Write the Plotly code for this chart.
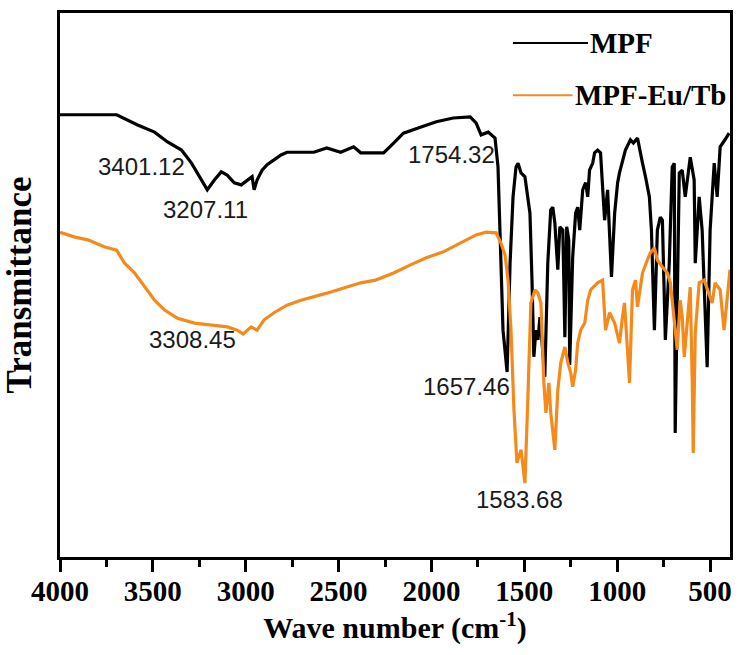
import plotly.graph_objects as go

# ---- data (wavenumber in cm^-1, transmittance in arbitrary %) ----
mpf_wn = [4000, 3695, 3582, 3491, 3421, 3346, 3292, 3239, 3207, 3169, 3132, 3100, 3062, 3024,
          2992, 2966, 2955, 2939, 2912, 2885, 2848, 2810, 2778, 2703, 2633, 2564, 2489, 2419,
          2381, 2312, 2258, 2204, 2151, 2060, 1974, 1883, 1792, 1760, 1733, 1695, 1658, 1642,
          1626, 1615, 1593, 1577, 1561, 1545, 1534, 1518, 1497, 1481, 1470, 1459, 1449, 1438,
          1427, 1416, 1400, 1390, 1374, 1358, 1347, 1336, 1320, 1309, 1293, 1282, 1272, 1261,
          1256, 1240, 1224, 1213, 1202, 1186, 1170, 1159, 1149, 1132, 1122, 1106, 1090, 1079,
          1068, 1052, 1041, 1031, 1014, 998, 988, 956, 929, 913, 891, 880, 864, 848, 827, 816,
          800, 784, 768, 757, 741, 720, 704, 693, 688, 677, 666, 650, 634, 607, 586, 580, 559,
          543, 516, 500, 478, 462, 446, 420, 398]
mpf_t = [81.3, 81.3, 79.4, 78.1, 76.3, 74.8, 72.4, 69.3, 67.5, 69.3, 70.8, 70.2, 68.8, 68.4,
         69.3, 69.9, 67.5, 69.3, 71.1, 72.1, 73.0, 73.9, 74.4, 74.4, 74.4, 75.2, 74.4, 75.4,
         74.3, 74.3, 74.3, 76.1, 77.9, 79.0, 80.0, 80.7, 80.9, 79.8, 77.6, 78.1, 77.0, 71.7,
         50.9, 41.7, 34.0, 54.0, 66.2, 71.7, 72.4, 70.6, 69.9, 65.6, 63.2, 50.9, 36.8, 41.7,
         39.9, 44.1, 36.2, 33.1, 54.0, 63.8, 64.3, 61.4, 52.8, 60.7, 60.1, 40.4, 60.7, 58.3,
         35.3, 55.1, 63.2, 64.3, 60.1, 67.5, 68.8, 66.2, 71.1, 72.4, 74.3, 74.8, 74.3, 68.0,
         61.9, 67.5, 58.8, 51.5, 63.2, 68.8, 70.6, 74.8, 76.7, 76.1, 77.0, 74.8, 72.4, 69.9, 66.2, 60.1,
         41.7, 60.1, 62.5, 61.9, 39.9, 54.0, 71.7, 72.4, 22.8, 47.2, 70.6, 71.1, 66.2, 73.5, 69.3, 54.0, 66.2,
         60.1, 34.9, 60.1, 72.4, 66.2, 75.4, 76.7, 77.9]

eu_wn = [4000, 3920, 3850, 3759, 3695, 3652, 3598, 3544, 3491, 3437, 3368, 3276, 3169, 3100,
         3046, 3014, 2971, 2939, 2901, 2848, 2778, 2703, 2564, 2381, 2301, 2204, 2113, 2028,
         1936, 1845, 1760, 1706, 1652, 1626, 1604, 1588, 1572, 1556, 1540, 1518, 1497, 1481,
         1465, 1443, 1427, 1411, 1395, 1384, 1368, 1358, 1336, 1320, 1304, 1282, 1266, 1250,
         1240, 1224, 1213, 1197, 1175, 1159, 1143, 1106, 1079, 1063, 1041, 1014, 988, 972, 961,
         945, 934, 918, 902, 891, 864, 838, 822, 800, 784, 757, 730, 714, 693, 677, 661, 650,
         639, 623, 607, 596, 591, 580, 559, 532, 505, 489, 473, 446, 425, 409, 393]
eu_t = [59.7, 58.8, 58.3, 57.0, 56.4, 54.0, 52.2, 49.6, 47.2, 45.4, 43.9, 43.0, 42.6, 42.3,
        41.7, 41.0, 42.3, 41.7, 43.6, 44.9, 46.3, 47.2, 48.5, 50.4, 50.9, 52.2, 53.7, 55.0,
        56.1, 57.7, 59.2, 59.7, 59.6, 57.7, 55.5, 50.9, 41.7, 27.0, 17.3, 19.7, 13.6, 29.4,
        46.7, 49.1, 48.5, 46.7, 32.0, 26.5, 32.0, 26.5, 19.7, 30.7, 35.7, 38.6, 35.7, 33.8,
        31.3, 34.4, 39.3, 41.7, 43.0, 47.2, 49.1, 50.4, 50.9, 41.7, 44.9, 43.0, 39.3, 44.1, 46.7,
        38.1, 32.0, 49.1, 50.9, 46.0, 52.2, 54.6, 55.9, 56.8, 54.6, 53.3, 52.2, 50.4, 44.1, 38.1, 47.2, 44.1,
        36.8, 44.1, 49.6, 32.0, 19.1, 41.2, 50.4, 50.9, 48.5, 46.7, 50.4, 49.1, 41.7, 47.2, 52.8]

x_ticks = [4000, 3500, 3000, 2500, 2000, 1500, 1000, 500]

peak_labels = ["3401.12", "3207.11", "1754.32", "3308.45", "1657.46", "1583.68"]
peak_label_x = [3560, 3217, 1894, 3287, 1813, 1524]
peak_label_y = [71.7, 63.8, 73.9, 39.9, 31.3, 10.5]

series_names = ["MPF", "MPF-Eu/Tb"]
series_colors = ["#000000", "#F58A1C"]

SERIF = "Liberation Serif"

fig = go.Figure()
fig.add_trace(go.Scatter(x=mpf_wn, y=mpf_t, mode="lines", name=series_names[0],
                         line=dict(color=series_colors[0], width=3.2), showlegend=False))
fig.add_trace(go.Scatter(x=eu_wn, y=eu_t, mode="lines", name=series_names[1],
                         line=dict(color=series_colors[1], width=3.2), showlegend=False))

for txt, lx, ly in zip(peak_labels, peak_label_x, peak_label_y):
    fig.add_annotation(x=lx, y=ly, text=txt, showarrow=False,
                       font=dict(family="Liberation Sans", size=24, color="#1a1a1a"))

# legend drawn manually (line sample + bold label)
legend_rows = [(0.945, 0.676, 0.788), (0.849, 0.676, 0.765)]
for (ly, x0, x1), name, col in zip(legend_rows, series_names, series_colors):
    fig.add_shape(type="line", xref="paper", yref="paper", x0=x0, x1=x1, y0=ly, y1=ly,
                  line=dict(color=col, width=2))
    fig.add_annotation(xref="paper", yref="paper", x=x1, y=ly, text=name, showarrow=False,
                       xanchor="left", yanchor="middle",
                       font=dict(family=SERIF, size=29, color="black", weight="bold"))

fig.update_layout(
    width=741, height=655,
    margin=dict(l=60, r=8, t=13, b=98),
    paper_bgcolor="white", plot_bgcolor="white",
    xaxis=dict(
        range=[4000, 393], tickmode="array", tickvals=x_ticks,
        ticks="outside", ticklen=12, tickwidth=3, tickcolor="black",
        ticklabelstandoff=-6,
        minor=dict(dtick=250, tick0=0, ticks="outside", ticklen=7, tickwidth=3, tickcolor="black"),
        showline=True, linecolor="black", linewidth=3, mirror=True,
        showgrid=False, zeroline=False,
        tickfont=dict(family=SERIF, size=29, color="black", weight="bold"),
        title=dict(text="Wave number (cm<sup>-1</sup>)", standoff=8,
                   font=dict(family=SERIF, size=30, color="black", weight="bold")),
    ),
    yaxis=dict(
        range=[0, 100], showticklabels=False, ticks="",
        showline=True, linecolor="black", linewidth=3, mirror=True,
        showgrid=False, zeroline=False,
        title=dict(text="Transmittance", standoff=20,
                   font=dict(family=SERIF, size=35, color="black", weight="bold")),
    ),
)

fig.write_html("out.html")
